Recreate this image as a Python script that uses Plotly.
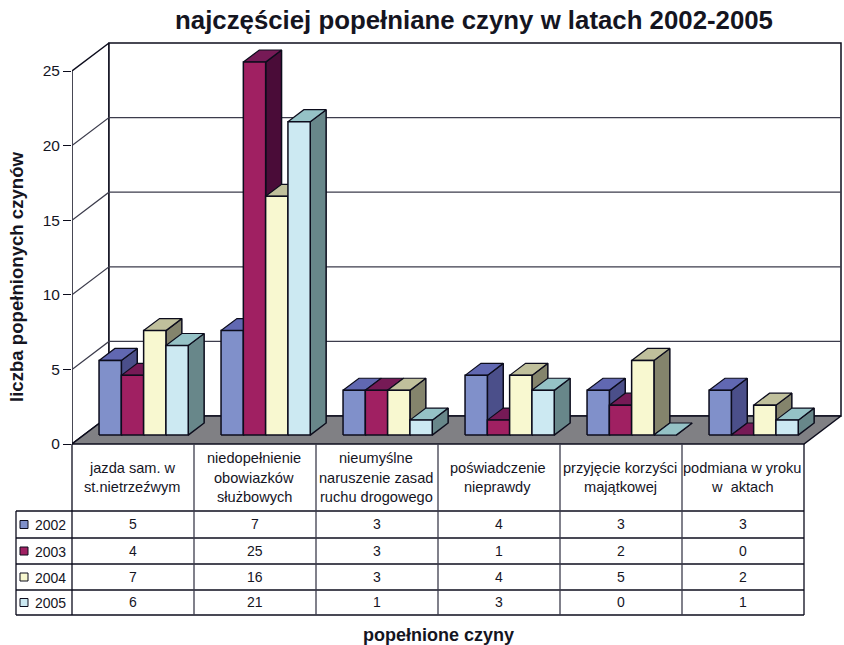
import plotly.graph_objects as go

TITLE = "najczęściej popełniane czyny w latach 2002-2005"
Y_TITLE = "liczba popełnionych czynów"
X_TITLE = "popełnione czyny"
categories = [
    ["jazda sam. w", "st.nietrzeźwym"],
    ["niedopełnienie", "obowiazków", "służbowych"],
    ["nieumyślne", "naruszenie zasad", "ruchu drogowego"],
    ["poświadczenie", "nieprawdy"],
    ["przyjęcie korzyści", "majątkowej"],
    ["podmiana w yroku", "w  aktach"],
]
years = ["2002", "2003", "2004", "2005"]
v2002 = [5, 7, 3, 4, 3, 3]
v2003 = [4, 25, 3, 1, 2, 0]
v2004 = [7, 16, 3, 4, 5, 2]
v2005 = [6, 21, 1, 3, 0, 1]
series = [v2002, v2003, v2004, v2005]
y_ticks = [0, 5, 10, 15, 20, 25]

front = ["#8090ca", "#a02062", "#f8f8d0", "#cce9f2"]
side = ["#4b4f8a", "#4a0c38", "#84846c", "#68878a"]
top = ["#6168b2", "#761a56", "#c0c09c", "#95c2c6"]
INK = "#0c0c1c"
GRID = "#3c3c4c"
TEXT = "#15151f"
FONT = "Liberation Sans"

W, H = 844, 645
X0, CATW = 72, 122.0       # front-left pixel, category width
Y0, UNIT = 444, 14.92      # floor pixel, pixels per value
DX, DY = 37, 28            # oblique depth of the chart box
L, R, T, B = X0, W - 2, 40, 446
XMAX = (R - X0) / CATW


def proj(u, v, d):
    """Oblique projection: category units, value, depth 0..1 -> axis coords."""
    return u + DX * d / CATW, v + DY * d / UNIT


def poly(points):
    xs, ys = [], []
    for u, v, d in points + points[:1]:
        x, y = proj(u, v, d)
        xs.append(x)
        ys.append(y)
    return xs, ys


def px(x):
    return (x - L) / (R - L)


def py(y):
    return (B - y) / (B - T)


fig = go.Figure()


def add_poly(polys, fill, line=INK, width=1.5, name=None):
    xs, ys = [], []
    for p in polys:
        a, b = poly(p)
        xs += a + [None]
        ys += b + [None]
    fig.add_trace(go.Scatter(x=xs, y=ys, mode="lines", fill="toself", fillcolor=fill,
                             line=dict(color=line, width=width), hoverinfo="skip",
                             showlegend=False, name=name))


vmax = y_ticks[-1]
ncat = len(categories)
# walls and floor
add_poly([[(0, 0, 0), (0, 0, 1), (0, vmax, 1), (0, vmax, 0)]], "#ffffff")
add_poly([[(0, 0, 1), (ncat, 0, 1), (ncat, vmax, 1), (0, vmax, 1)]], "#ffffff")
add_poly([[(0, 0, 0), (ncat, 0, 0), (ncat, 0, 1), (0, 0, 1)]], "#808084", line=INK)
# gridlines on the walls
gx, gy = [], []
for t in y_ticks[1:-1]:
    for u, d in [(0, 0), (0, 1), (ncat, 1)]:
        x, y = proj(u, t, d)
        gx.append(x)
        gy.append(y)
    gx.append(None)
    gy.append(None)
fig.add_trace(go.Scatter(x=gx, y=gy, mode="lines", line=dict(color=GRID, width=1.2),
                         hoverinfo="skip", showlegend=False))

# bars
BAR_W = 22.3 / CATW
BAR_OFF = 15.2 / CATW
D0, D1 = 0.32, 0.75
for s, vals in enumerate(series):
    sides, tops, fronts = [], [], []
    for c, v in enumerate(vals):
        a = c + BAR_OFF + s * BAR_W
        b = a + BAR_W
        sides.append([(b, 0, D0), (b, 0, D1), (b, v, D1), (b, v, D0)])
        tops.append([(a, v, D0), (b, v, D0), (b, v, D1), (a, v, D1)])
        if v > 0:
            fronts.append([(a, 0, D0), (b, 0, D0), (b, v, D0), (a, v, D0)])
    add_poly(sides, side[s])
    add_poly(tops, top[s], width=1.2)
    add_poly(fronts, front[s], name=years[s])

shapes = []
annotations = []


def hline(x0, x1, y, color=INK, width=1.3):
    shapes.append(dict(type="line", xref="paper", yref="paper", x0=px(x0), x1=px(x1),
                       y0=py(y), y1=py(y), line=dict(color=color, width=width)))


def vline(x, y0, y1, color=INK, width=1.3):
    shapes.append(dict(type="line", xref="paper", yref="paper", x0=px(x), x1=px(x),
                       y0=py(y0), y1=py(y1), line=dict(color=color, width=width)))


def label(x, y, text, size=14, bold=False, angle=0, anchor="center", color=TEXT):
    annotations.append(dict(xref="paper", yref="paper", x=px(x), y=py(y),
                            text=f"<b>{text}</b>" if bold else text, showarrow=False,
                            xanchor=anchor, yanchor="middle", textangle=angle,
                            font=dict(family=FONT, size=size, color=color)))


ROW_Y = [511, 538, 564, 590, 615]
LEFT = 16
for y in ROW_Y:
    hline(LEFT, X0 + CATW * ncat, y)
vline(LEFT, ROW_Y[0], ROW_Y[-1])
for c in range(ncat + 1):
    vline(X0 + CATW * c, Y0, ROW_Y[-1], color=INK if c in (0, ncat) else GRID)

for c, lines in enumerate(categories):
    cx = X0 + CATW * (c + 0.5) - 1
    y_start = 477.5 - (len(lines) - 1) * 19.5 / 2
    for i, line in enumerate(lines):
        label(cx, y_start + i * 19.5, line, size=14.6)

for s, vals in enumerate(series):
    yc = (ROW_Y[s] + ROW_Y[s + 1]) / 2
    shapes.append(dict(type="rect", xref="paper", yref="paper", x0=px(20), x1=px(28),
                       y0=py(yc - 4), y1=py(yc + 4), fillcolor=front[s],
                       line=dict(color=INK, width=1)))
    label(33, yc + 0.5, years[s], size=14, anchor="left")
    for c, v in enumerate(vals):
        label(X0 + CATW * (c + 0.5), yc - 0.5, str(v), size=14)

label(16, 277, Y_TITLE, size=18.6, bold=True, angle=-90)
label(438, 635, X_TITLE, size=18, bold=True)

fig.update_layout(
    width=W, height=H,
    margin=dict(l=L, r=W - R, t=T, b=H - B, pad=0),
    paper_bgcolor="#ffffff", plot_bgcolor="#ffffff",
    showlegend=False,
    title=dict(text=f"<b>{TITLE}</b>", x=474 / W, xanchor="center", y=1 - 20 / H, yanchor="middle",
               font=dict(family=FONT, size=25.8, color=TEXT)),
    xaxis=dict(range=[0, XMAX], visible=False, fixedrange=True),
    yaxis=dict(range=[(Y0 - B) / UNIT, (Y0 - T) / UNIT], tickmode="array", tickvals=y_ticks,
               ticks="outside", ticklen=8, tickwidth=1.3, tickcolor=INK, showgrid=False,
               zeroline=False, showline=False, tickfont=dict(family=FONT, size=15.5, color=TEXT)),
    shapes=shapes, annotations=annotations,
)
fig.write_html("out.html", config={"displayModeBar": False},
               post_script="document.body.style.margin='0';")
